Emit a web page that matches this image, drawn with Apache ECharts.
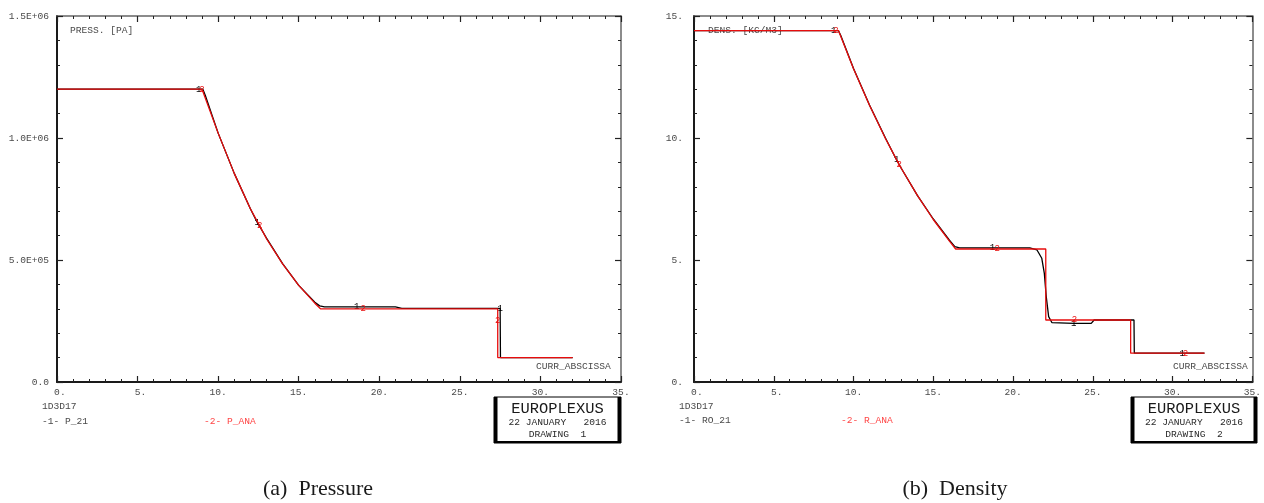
<!DOCTYPE html>
<html>
<head>
<meta charset="utf-8">
<script src="https://cdn.jsdelivr.net/npm/echarts@6/dist/echarts.min.js"></script>
<style>
  html, body { margin: 0; padding: 0; background: #fff; }
  #c { width: 1264px; height: 503px; }
</style>
</head>
<body>
<div id="c"></div>
<script>
// 1D shock tube (1D3D17): pressure and density along the tube, numerical vs analytic.

// ---- pressure [Pa] ----
const pressX_P21 = [0, 8.8, 9.05, 9.2, 10, 11, 12, 12.42, 13, 14, 15, 16, 16.3, 16.6, 18.6, 21.0, 21.4, 27.5, 27.52, 32.0];
const pressY_P21 = [1.2e6, 1.2e6, 1.2e6, 1.175e6, 1.02e6, 8.55e5, 7.1e5, 6.55e5, 5.9e5, 4.85e5, 3.96e5, 3.27e5, 3.12e5, 3.08e5, 3.08e5, 3.08e5, 3.02e5, 3.02e5, 1.0e5, 1.0e5];
const pressTags_P21 = [[8.8, 1.2e6], [12.42, 6.55e5], [18.6, 3.08e5], [27.5, 3.02e5]];

const pressX_ANA = [0, 9.0, 9.07, 10, 11, 12, 12.58, 13, 14, 15, 16, 16.35, 19.0, 27.35, 27.35, 27.35, 32.0];
const pressY_ANA = [1.2e6, 1.2e6, 1.2e6, 1.02e6, 8.55e5, 7.1e5, 6.4e5, 5.87e5, 4.84e5, 3.96e5, 3.23e5, 3.0e5, 3.0e5, 3.0e5, 2.5e5, 1.0e5, 1.0e5];
const pressTags_ANA = [[9.0, 1.2e6], [12.58, 6.4e5], [19.0, 3.0e5], [27.35, 2.5e5]];

// ---- density [kg/m3] ----
const densX_RO21 = [0, 8.75, 9.05, 9.2, 10, 11, 12, 12.7, 13, 14, 15, 16, 16.35, 16.65, 18.7, 21.05, 21.5, 21.8, 21.96, 22.08, 22.23, 22.44, 23.8, 24.9, 25.08, 27.58, 27.6, 30.6, 32.0];
const densY_RO21 = [14.4, 14.4, 14.4, 14.2, 12.85, 11.35, 10.0, 9.1, 8.75, 7.65, 6.68, 5.82, 5.55, 5.5, 5.5, 5.5, 5.41, 5.07, 4.45, 3.5, 2.68, 2.43, 2.40, 2.40, 2.54, 2.54, 1.18, 1.18, 1.18];
const densTags_RO21 = [[8.75, 14.4], [12.7, 9.1], [18.7, 5.5], [23.8, 2.40], [30.6, 1.18]];

const densX_ANA = [0, 8.9, 9.06, 10, 11, 12, 12.87, 13, 14, 15, 16, 16.4, 19.0, 22.05, 22.05, 23.85, 27.37, 27.37, 30.8, 32.0];
const densY_ANA = [14.4, 14.4, 14.4, 12.84, 11.34, 9.98, 8.9, 8.75, 7.65, 6.66, 5.78, 5.45, 5.45, 5.45, 2.54, 2.54, 2.54, 1.18, 1.18, 1.18];
const densTags_ANA = [[8.9, 14.4], [12.87, 8.9], [19.0, 5.45], [23.85, 2.54], [30.8, 1.18]];

// ---- axis ticks ----
const xTicks = { min: 0, max: 35, step: 5 };
const pressTicks = { min: 0, max: 1.5e6, step: 5e5 };
const densTicks = { min: 0, max: 15, step: 5 };

const MONO = '"Liberation Mono", "DejaVu Sans Mono", monospace';
const TXT = '#4a4a4a';
const RED = '#e80c0c';
const LEG_RED = '#ff4545';

function sci(v) {
  if (v === 0) return '0.0';
  const e = Math.floor(Math.log10(v) + 1e-9);
  const m = v / Math.pow(10, e);
  return m.toFixed(1) + 'E+' + String(e).padStart(2, '0');
}

function curve(xs, ys, tags, tagText, color) {
  return xs.map((x, i) => {
    const item = { value: [x, ys[i]] };
    if (tags.some(t => t[0] === x && t[1] === ys[i])) {
      item.label = {
        show: true, position: 'inside', formatter: tagText,
        color: color, fontFamily: MONO, fontSize: 9
      };
    }
    return item;
  });
}

function axes(gi, yt, yFmt, yMargin) {
  const tick = { inside: true, length: 6, lineStyle: { color: '#222', width: 1.2 } };
  const minor = { show: true, splitNumber: 5, length: 3, lineStyle: { color: '#222', width: 1 } };
  const base = { gridIndex: gi, type: 'value', splitLine: { show: false }, minorSplitLine: { show: false } };
  const xBottom = Object.assign({}, base, {
    min: xTicks.min, max: xTicks.max, interval: xTicks.step, position: 'bottom',
    axisLine: { show: true, onZero: false, lineStyle: { color: '#1a1a1a', width: 2 } },
    axisTick: tick, minorTick: minor,
    axisLabel: {
      formatter: v => (v < 10 ? ' ' : '') + v + '.', fontFamily: MONO, fontSize: 9.6,
      color: TXT, margin: 5, showMinLabel: true, showMaxLabel: true, hideOverlap: false
    }
  });
  const xTop = Object.assign({}, base, {
    min: xTicks.min, max: xTicks.max, interval: xTicks.step, position: 'top',
    axisLine: { show: true, onZero: false, lineStyle: { color: '#666', width: 1.5 } },
    axisTick: tick, minorTick: minor, axisLabel: { show: false }
  });
  const yLeft = Object.assign({}, base, {
    min: yt.min, max: yt.max, interval: yt.step, position: 'left',
    axisLine: { show: true, onZero: false, lineStyle: { color: '#1a1a1a', width: 2 } },
    axisTick: tick, minorTick: minor,
    axisLabel: {
      formatter: yFmt, fontFamily: MONO, fontSize: 9.6, color: TXT, margin: yMargin,
      showMinLabel: true, showMaxLabel: true, hideOverlap: false
    }
  });
  const yRight = Object.assign({}, base, {
    min: yt.min, max: yt.max, interval: yt.step, position: 'right',
    axisLine: { show: true, onZero: false, lineStyle: { color: '#666', width: 1.5 } },
    axisTick: tick, minorTick: minor, axisLabel: { show: false }
  });
  return { x: [xBottom, xTop], y: [yLeft, yRight] };
}

const axP = axes(0, pressTicks, sci, 8);
const axD = axes(1, densTicks, v => v + '.', 11);

function lineSeries(xi, yi, data, color, z) {
  return {
    type: 'line', xAxisIndex: xi, yAxisIndex: yi, data: data,
    showSymbol: true, symbol: 'circle', symbolSize: 0,
    lineStyle: { color: color, width: 1.3 }, itemStyle: { color: color },
    label: { show: false }, z: z, silent: true, animation: false
  };
}

function txt(x, y, text, opt) {
  return {
    type: 'text', x: x, y: y, silent: true,
    style: Object.assign({
      text: text, fill: TXT, font: '9.6px ' + MONO,
      align: 'left', verticalAlign: 'middle'
    }, opt || {})
  };
}

function stamp(x0, x1, drawing) {
  const y0 = 397, y1 = 443, cx = (x0 + x1) / 2;
  return [
    { type: 'rect', shape: { x: x0, y: y0, width: x1 - x0, height: y1 - y0 },
      style: { fill: '#fff', stroke: '#000', lineWidth: 1 }, silent: true },
    { type: 'rect', shape: { x: x0, y: y0, width: 3.5, height: y1 - y0 }, style: { fill: '#000' }, silent: true },
    { type: 'rect', shape: { x: x1 - 3.5, y: y0, width: 3.5, height: y1 - y0 }, style: { fill: '#000' }, silent: true },
    { type: 'rect', shape: { x: x0, y: y1 - 2, width: x1 - x0, height: 2 }, style: { fill: '#000' }, silent: true },
    txt(cx, 408.5, 'EUROPLEXUS', { font: '15.4px ' + MONO, fill: '#1a1a1a', align: 'center' }),
    txt(cx, 422, '22 JANUARY   2016', { align: 'center', fill: '#2a2a2a' }),
    txt(cx, 434.5, 'DRAWING  ' + drawing, { align: 'center', fill: '#2a2a2a' })
  ];
}

const graphics = [].concat(
  [
    txt(70, 30, 'PRESS. [PA]'),
    txt(536, 366, 'CURR_ABSCISSA'),
    txt(42, 406, '1D3D17'),
    txt(42, 421, '-1- P_21'),
    txt(204, 421, '-2- P_ANA', { fill: LEG_RED }),
    txt(708, 30, 'DENS. [KG/M3]'),
    txt(1173, 366, 'CURR_ABSCISSA'),
    txt(679, 406, '1D3D17'),
    txt(679, 420, '-1- RO_21'),
    txt(841, 420, '-2- R_ANA', { fill: LEG_RED }),
    txt(318, 489, '(a)  Pressure', { font: '22px "Liberation Serif", "DejaVu Serif", serif', fill: '#1a1a1a', align: 'center' }),
    txt(955, 489, '(b)  Density', { font: '22px "Liberation Serif", "DejaVu Serif", serif', fill: '#1a1a1a', align: 'center' })
  ],
  stamp(494, 621, '1'),
  stamp(1131, 1257, '2')
);

const chart = echarts.init(document.getElementById('c'), null, { renderer: 'canvas' });
chart.setOption({
  animation: false,
  backgroundColor: '#fff',
  grid: [
    { left: 57, top: 16, width: 564, height: 366, containLabel: false },
    { left: 694, top: 16, width: 563, height: 366, containLabel: false }
  ],
  xAxis: [axP.x[0], axP.x[1], axD.x[0], axD.x[1]],
  yAxis: [axP.y[0], axP.y[1], axD.y[0], axD.y[1]],
  series: [
    lineSeries(0, 0, curve(pressX_P21, pressY_P21, pressTags_P21, '1', '#000'), '#000', 2),
    lineSeries(0, 0, curve(pressX_ANA, pressY_ANA, pressTags_ANA, '2', RED), RED, 3),
    lineSeries(2, 2, curve(densX_RO21, densY_RO21, densTags_RO21, '1', '#000'), '#000', 2),
    lineSeries(2, 2, curve(densX_ANA, densY_ANA, densTags_ANA, '2', RED), RED, 3)
  ],
  graphic: graphics
});
</script>
</body>
</html>
